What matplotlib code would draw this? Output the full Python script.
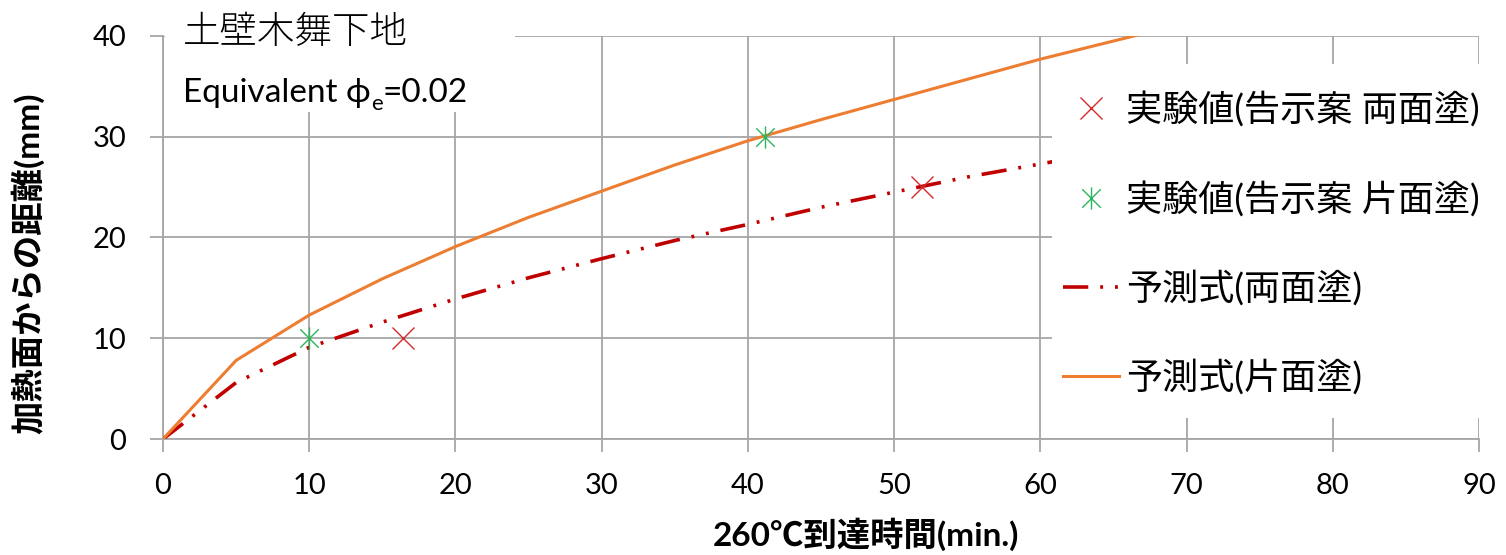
import matplotlib
matplotlib.use('Agg')
import matplotlib.pyplot as plt
from matplotlib.patches import Rectangle
from matplotlib.path import Path

plt.rcParams['font.family'] = ['Lato', 'Noto Sans CJK JP', 'DejaVu Sans']

# predicted depth of 260C front vs time
t_pred = [0, 5, 10, 15, 20, 25, 30, 35, 40, 45, 50, 55, 60, 65, 70]
depth_one_side = [0, 7.8, 12.3, 15.9, 19.1, 22.0, 24.6, 27.2, 29.6, 31.7, 33.7, 35.7, 37.7, 39.5, 41.3]
t_pred_both = [0, 5, 10, 15, 20, 25, 30, 35, 40, 45, 50, 55, 60, 65]
depth_both_side = [0, 5.6, 9.1, 11.6, 13.9, 16.0, 17.9, 19.7, 21.3, 23.0, 24.5, 26.0, 27.3, 28.6]

# measured points
t_exp_both = [16.4, 51.9]
d_exp_both = [10, 25]
t_exp_one = [10.0, 41.2]
d_exp_one = [10, 30]

labels = ['実験値(告示案 両面塗)', '実験値(告示案 片面塗)', '予測式(両面塗)', '予測式(片面塗)']

RED = '#C00000'
ORANGE = '#ED7D31'
XRED = '#D42A2A'
GREEN = '#2DB55D'
GRID = '#A6A6A6'

W, H = 1506, 555
fig = plt.figure(figsize=(W / 100, H / 100), dpi=100)
ax = fig.add_axes([163 / W, 1 - 439 / H, 1316 / W, 403 / H])

# excel style asterisk: x plus a vertical bar
star = Path([(-1, -1), (1, 1), (-1, 1), (1, -1), (0, -1.2), (0, 1.2)],
            [Path.MOVETO, Path.LINETO, Path.MOVETO, Path.LINETO, Path.MOVETO, Path.LINETO])

ln_both, = ax.plot(t_pred_both, depth_both_side, color=RED, lw=2.6, zorder=3,
                   dashes=[7, 3.3, 0.8, 3.3, 0.8, 3.3], solid_capstyle='butt')
ln_one, = ax.plot(t_pred, depth_one_side, color=ORANGE, lw=2.2, zorder=3)
mk_both, = ax.plot(t_exp_both, d_exp_both, ls='none', marker='x', ms=16,
                   mew=1.0, color=XRED, zorder=4)
mk_one, = ax.plot(t_exp_one, d_exp_one, ls='none', marker=star, ms=16,
                  mew=1.0, color=GREEN, zorder=4)

ax.set_xlim(0, 90)
ax.set_ylim(0, 40)
ax.set_xticks(range(0, 91, 10))
ax.set_yticks(range(0, 41, 10))
ax.grid(True, color=GRID, lw=1.3)
ax.set_axisbelow(True)
for s in ['top', 'right']:
    ax.spines[s].set_visible(False)
for s in ['left', 'bottom']:
    ax.spines[s].set_color(GRID)
    ax.spines[s].set_linewidth(1.3)
ax.tick_params(axis='both', direction='out', length=9.5, width=1.3, color=GRID,
               labelsize=21, labelcolor='black')
ax.tick_params(axis='y', pad=17)
ax.tick_params(axis='x', pad=15)

ax.set_xlabel('260℃到達時間(min.)', fontsize=24, fontweight='bold')
ax.xaxis.set_label_coords(0.534, -0.195)
ax.set_ylabel('加熱面からの距離(mm)', fontsize=24, fontweight='bold')
ax.yaxis.set_label_coords(-0.09, 0.437)

# white boxes behind the title text and the legend
fig.patches.append(Rectangle((164.5 / W, 1 - 112 / H), (515 - 164.5) / W, 112 / H,
                             transform=fig.transFigure, facecolor='white',
                             edgecolor='none', zorder=1))
fig.patches.append(Rectangle((1052 / W, 1 - 418 / H), (W - 1052) / W, (418 - 64) / H,
                             transform=fig.transFigure, facecolor='white',
                             edgecolor='none', zorder=1))

fig.text(183 / W, 1 - 33 / H, '土壁木舞下地', fontsize=27, va='center', ha='left',
         fontweight='light', zorder=2)
t1 = fig.text(183 / W, 1 - 93 / H, 'Equivalent ϕ', fontsize=24, va='center', ha='left', zorder=2)
fig.canvas.draw()
bb = t1.get_window_extent()
t2 = fig.text(bb.x1 / W, (bb.y0 - 2) / H, 'e', fontsize=16, va='baseline', ha='left', zorder=2)
fig.canvas.draw()
bb2 = t2.get_window_extent()
fig.text(bb2.x1 / W, 1 - 93 / H, '=0.02', fontsize=24, va='center', ha='left', zorder=2)

leg = fig.legend([mk_both, mk_one, ln_both, ln_one], labels, loc='upper left',
                 bbox_to_anchor=(1052 / W, 1 - 80 / H), frameon=False, fontsize=26,
                 handlelength=1.55, handletextpad=0.2, labelspacing=1.48,
                 borderpad=0.3, borderaxespad=0)
leg.set_zorder(3)

fig.savefig('out.png', dpi=100)
